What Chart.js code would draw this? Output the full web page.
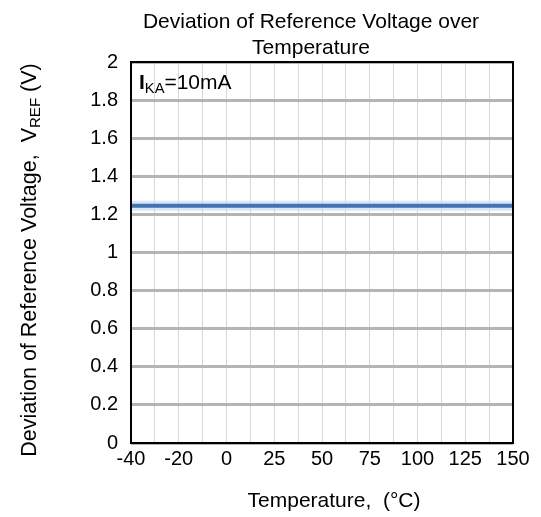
<!DOCTYPE html>
<html>
<head>
<meta charset="utf-8">
<script src="https://cdn.jsdelivr.net/npm/chart.js@4.4.0/dist/chart.umd.min.js"></script>
<style>
  html, body { margin: 0; padding: 0; background: #fff; }
  #wrap { width: 541px; height: 517px; }
</style>
</head>
<body>
<div id="wrap"><canvas id="vrefChart" width="541" height="517"></canvas></div>
<script>
// Temperature labels (°C), evenly spaced on the axis
const temps = [-40, -20, 0, 25, 50, 75, 100, 125, 150];
// Reference voltage (V)
const vref = [1.245, 1.245, 1.245, 1.245, 1.245, 1.245, 1.245, 1.245, 1.245];
const yTicks = [0, 0.2, 0.4, 0.6, 0.8, 1, 1.2, 1.4, 1.6, 1.8, 2];

const FONT = "Arial, 'Liberation Sans', sans-serif";
const points = temps.map((t, i) => ({ x: i, y: vref[i] }));

// draws a string made of parts: {t, sub, bold}
function drawRich(ctx, parts, x, y, size) {
    let cx = x;
    parts.forEach(p => {
        const s = p.sub ? size * 0.7 : size;
        ctx.font = (p.bold ? "bold " : "") + s + "px " + FONT;
        ctx.fillText(p.t, cx, p.sub ? y + size * 0.2 : y);
        cx += ctx.measureText(p.t).width;
    });
    return cx - x;
}
function richWidth(ctx, parts, size) {
    let w = 0;
    parts.forEach(p => {
        const s = p.sub ? size * 0.7 : size;
        ctx.font = (p.bold ? "bold " : "") + s + "px " + FONT;
        w += ctx.measureText(p.t).width;
    });
    return w;
}

const decorPlugin = {
    id: "decor",
    afterDraw(chart) {
        const ctx = chart.ctx;
        const a = chart.chartArea;
        ctx.save();
        // frame
        ctx.strokeStyle = "#000";
        ctx.lineWidth = 2;
        ctx.strokeRect(a.left, a.top, a.right - a.left, a.bottom - a.top);

        ctx.fillStyle = "#000";
        ctx.textBaseline = "alphabetic";
        // title
        ctx.textAlign = "center";
        ctx.font = "21px " + FONT;
        ctx.fillText("Deviation of Reference Voltage over", 311, 28);
        ctx.fillText("Temperature", 311, 54);

        // x title
        ctx.fillText("Temperature,  (\u00B0C)", 334, 507);

        // annotation
        ctx.textAlign = "left";
        drawRich(ctx, [{ t: "I", bold: true }, { t: "KA", sub: true }, { t: "=10mA" }], a.left + 8, a.top + 27, 21);

        // y title (rotated)
        const yParts = [{ t: "Deviation of Reference Voltage,  V" }, { t: "REF", sub: true }, { t: " (V)" }];
        ctx.translate(36, 260);
        ctx.rotate(-Math.PI / 2);
        const w = richWidth(ctx, yParts, 21.5);
        drawRich(ctx, yParts, -w / 2, 0, 21.5);
        ctx.restore();
    }
};

const ctx = document.getElementById("vrefChart").getContext("2d");
new Chart(ctx, {
    type: "line",
    data: {
        datasets: [
            {
                data: points,
                borderColor: "#4472b4",
                borderWidth: 4,
                pointRadius: 0,
                fill: false,
                order: 1,
            },
            {
                data: points,
                borderColor: "rgba(200,222,244,0.7)",
                borderWidth: 10,
                pointRadius: 0,
                fill: false,
                order: 2,
            },
        ],
    },
    options: {
        responsive: false,
        animation: false,
        layout: { padding: { top: 62, left: 0, right: 28, bottom: 0 } },
        plugins: {
            legend: { display: false },
            tooltip: { enabled: false },
        },
        scales: {
            x: {
                type: "linear",
                min: 0,
                max: temps.length - 1,
                afterBuildTicks: (s) => {
                    const t = [];
                    for (let v = 0; v <= temps.length - 1; v += 0.5) t.push({ value: v });
                    s.ticks = t;
                },
                afterFit: (s) => { s.height = 74; },
                grid: { color: "#d6d6d6", lineWidth: 1, drawTicks: false },
                border: { display: false },
                ticks: {
                    autoSkip: false,
                    maxRotation: 0,
                    padding: 4,
                    color: "#000",
                    font: { family: FONT, size: 20 },
                    callback: (v) => Number.isInteger(v) ? String(temps[v]) : "",
                },
            },
            y: {
                min: 0,
                max: 2,
                afterBuildTicks: (s) => { s.ticks = yTicks.map(v => ({ value: v })); },
                afterFit: (s) => { s.width = 131; },
                grid: { color: "#b4b4b4", lineWidth: 3, drawTicks: false },
                border: { display: false },
                ticks: {
                    padding: 13,
                    color: "#000",
                    font: { family: FONT, size: 20 },
                    callback: (v) => String(v),
                },
            },
        },
    },
    plugins: [decorPlugin],
});
</script>
</body>
</html>
